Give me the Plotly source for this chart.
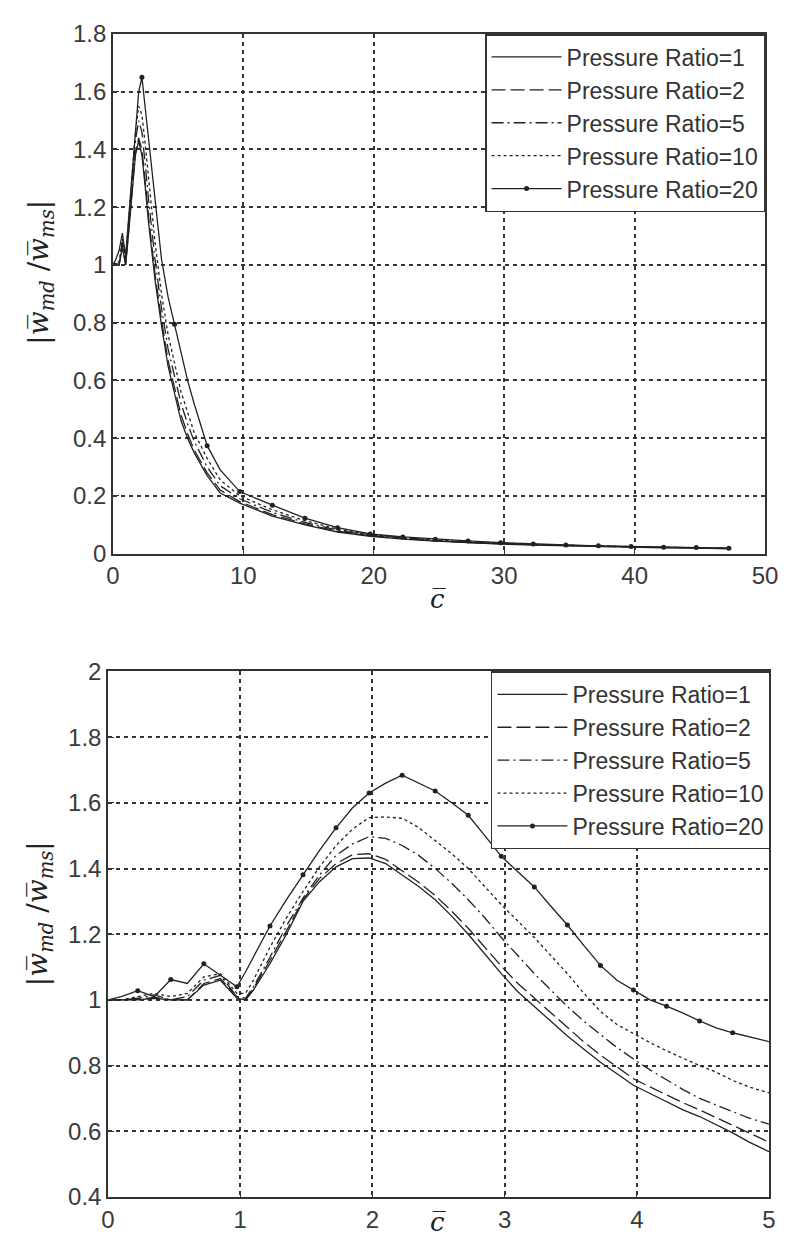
import plotly.graph_objects as go

# ---------------- data: wide range (top panel) ----------------
c_wide = [0, 0.225, 0.475, 0.725, 0.975, 1.225, 1.475, 1.725, 1.975, 2.225, 2.475, 2.725,
          3.225, 3.725, 4.225, 4.725, 5.225, 5.725, 6.225, 7.225, 8.225, 9.725, 12.225,
          14.725, 17.225, 19.725, 22.225, 24.725, 27.225, 29.725, 32.225, 34.725, 37.225,
          39.725, 42.225, 44.725, 47.225]
pr1_wide = [1.0, 1.0, 1.0, 1.06, 1.0, 1.12, 1.26, 1.38, 1.43, 1.38, 1.27, 1.15,
            0.95, 0.79, 0.65, 0.55, 0.46, 0.40, 0.35, 0.27, 0.21, 0.175, 0.13,
            0.10, 0.075, 0.06, 0.05, 0.043, 0.037, 0.033, 0.03, 0.027, 0.024,
            0.022, 0.02, 0.019, 0.017]
pr2_wide = [1.0, 1.0, 1.0, 1.07, 1.0, 1.13, 1.27, 1.39, 1.44, 1.40, 1.29, 1.17,
            0.97, 0.81, 0.67, 0.57, 0.48, 0.415, 0.36, 0.28, 0.22, 0.18, 0.135,
            0.103, 0.078, 0.062, 0.052, 0.044, 0.038, 0.034, 0.031, 0.028, 0.025,
            0.023, 0.021, 0.019, 0.018]
pr5_wide = [1.0, 1.005, 1.0, 1.08, 1.01, 1.15, 1.30, 1.43, 1.50, 1.46, 1.35, 1.23,
            1.02, 0.85, 0.71, 0.61, 0.52, 0.45, 0.39, 0.30, 0.235, 0.19, 0.143,
            0.108, 0.081, 0.064, 0.054, 0.046, 0.04, 0.035, 0.032, 0.029, 0.026,
            0.024, 0.022, 0.02, 0.018]
pr10_wide = [1.0, 1.01, 1.01, 1.09, 1.02, 1.17, 1.33, 1.46, 1.55, 1.52, 1.42, 1.30,
             1.08, 0.90, 0.76, 0.66, 0.56, 0.49, 0.42, 0.33, 0.255, 0.20, 0.152,
             0.114, 0.085, 0.066, 0.056, 0.047, 0.041, 0.036, 0.032, 0.029, 0.026,
             0.024, 0.022, 0.02, 0.018]
pr20_wide = [1.0, 1.02, 1.05, 1.11, 1.03, 1.18, 1.33, 1.47, 1.60, 1.65, 1.545, 1.44,
             1.23, 1.02, 0.89, 0.795, 0.70, 0.60, 0.52, 0.374, 0.29, 0.215, 0.168,
             0.123, 0.09, 0.068, 0.058, 0.05, 0.044, 0.038, 0.033, 0.03, 0.027,
             0.025, 0.022, 0.021, 0.019]

# ---------------- data: zoomed range (bottom panel) ----------------
c_zoom = [0, 0.1, 0.225, 0.35, 0.475, 0.6, 0.725, 0.85, 0.975, 1.04, 1.1, 1.225, 1.35,
          1.475, 1.6, 1.725, 1.85, 1.975, 2.1, 2.225, 2.35, 2.475, 2.6, 2.725, 2.85,
          2.975, 3.1, 3.225, 3.35, 3.475, 3.6, 3.725, 3.85, 3.975, 4.1, 4.225, 4.35,
          4.475, 4.6, 4.725, 4.85, 5.0]
pr1_zoom = [1.0, 1.0, 1.0, 1.005, 1.0, 1.0, 1.045, 1.06, 1.005, 1.0, 1.03, 1.11, 1.20,
            1.30, 1.36, 1.405, 1.43, 1.432, 1.415, 1.38, 1.345, 1.305, 1.255, 1.20, 1.14,
            1.08, 1.025, 0.98, 0.935, 0.89, 0.85, 0.81, 0.775, 0.74, 0.715, 0.69, 0.665,
            0.645, 0.62, 0.595, 0.567, 0.538]
pr2_zoom = [1.0, 1.0, 1.002, 1.008, 1.0, 1.0, 1.05, 1.065, 1.01, 1.0, 1.035, 1.12, 1.21,
            1.305, 1.37, 1.415, 1.442, 1.445, 1.428, 1.393, 1.358, 1.318, 1.27, 1.218, 1.16,
            1.103, 1.05, 1.005, 0.96, 0.915, 0.872, 0.832, 0.795, 0.76, 0.735, 0.71, 0.687,
            0.665, 0.642, 0.618, 0.595, 0.567]
pr5_zoom = [1.0, 1.0, 1.005, 1.015, 1.0, 1.01, 1.06, 1.075, 1.01, 1.005, 1.04, 1.13, 1.225,
            1.31, 1.38, 1.44, 1.475, 1.497, 1.492, 1.47, 1.44, 1.40, 1.355, 1.305, 1.25,
            1.19, 1.135, 1.08, 1.03, 0.98, 0.935, 0.895, 0.855, 0.82, 0.787, 0.757, 0.727,
            0.70, 0.68, 0.66, 0.64, 0.622]
pr10_zoom = [1.0, 1.0, 1.01, 1.02, 1.01, 1.02, 1.07, 1.08, 1.02, 1.02, 1.06, 1.16, 1.25,
             1.33, 1.405, 1.47, 1.52, 1.555, 1.557, 1.553, 1.525, 1.485, 1.445, 1.40, 1.345,
             1.29, 1.24, 1.19, 1.135, 1.08, 1.02, 0.965, 0.925, 0.897, 0.87, 0.845, 0.822,
             0.80, 0.78, 0.755, 0.735, 0.717]
pr20_zoom = [1.0, 1.01, 1.028, 1.01, 1.062, 1.05, 1.11, 1.075, 1.04, 1.085, 1.13, 1.225, 1.305,
             1.381, 1.455, 1.524, 1.585, 1.630, 1.66, 1.684, 1.66, 1.636, 1.60, 1.562, 1.50,
             1.437, 1.39, 1.344, 1.285, 1.228, 1.165, 1.105, 1.06, 1.03, 1.0, 0.981, 0.96,
             0.936, 0.915, 0.90, 0.888, 0.873]

series_names = ["Pressure Ratio=1", "Pressure Ratio=2", "Pressure Ratio=5",
                "Pressure Ratio=10", "Pressure Ratio=20"]

# ---------------- styling ----------------
LINE_COLOR = "#222222"
AX_COLOR = "#333333"
dashes = ["solid", "14px,5px", "12px,4px,2px,4px", "3px,3px", "solid"]
FONT = "Liberation Sans, Arial, sans-serif"

fig = go.Figure()

wide_sets = [pr1_wide, pr2_wide, pr5_wide, pr10_wide, pr20_wide]
zoom_sets = [pr1_zoom, pr2_zoom, pr5_zoom, pr10_zoom, pr20_zoom]


def marker_mask(cs, start, step, stop):
    out = []
    for c in cs:
        k = (c - start) / step
        out.append(c >= start - 1e-9 and c <= stop and abs(k - round(k)) < 1e-6)
    return out


panels = [
    (c_wide, wide_sets, "x", "y", "legend", marker_mask(c_wide, 2.225, 2.5, 50)),
    (c_zoom, zoom_sets, "x2", "y2", "legend2", marker_mask(c_zoom, 0.225, 0.25, 4.8)),
]

for cs, sets, xa, ya, lg, mask in panels:
    for i, (name, vals) in enumerate(zip(series_names, sets)):
        fig.add_trace(go.Scatter(
            x=cs, y=vals, mode="lines", xaxis=xa, yaxis=ya,
            line=dict(color=LINE_COLOR, width=1.3, dash=dashes[i]),
            name=name, legend=lg, showlegend=(i < 4), hoverinfo="skip"))
    mx = [c for c, m in zip(cs, mask) if m]
    my = [v for v, m in zip(sets[4], mask) if m]
    fig.add_trace(go.Scatter(
        x=mx, y=my, mode="markers", xaxis=xa, yaxis=ya,
        marker=dict(color=LINE_COLOR, size=5, symbol="circle"),
        showlegend=False, legend=lg, hoverinfo="skip"))
    fig.add_trace(go.Scatter(
        x=[None], y=[None], mode="lines+markers", xaxis=xa, yaxis=ya,
        line=dict(color=LINE_COLOR, width=1.3),
        marker=dict(color=LINE_COLOR, size=5),
        name=series_names[4], legend=lg, showlegend=True))

W, H = 786, 1237
ML, MR, MT, MB = 100, 13, 19, 43
pw, ph = W - ML - MR, H - MT - MB


def px_x(p):
    return (p - ML) / pw


def px_y(p):
    return (H - MB - p) / ph


axis_common = dict(
    showline=True, linecolor=AX_COLOR, linewidth=1.5, mirror=True,
    ticks="inside", ticklen=6, tickcolor=AX_COLOR, tickwidth=1.2,
    showgrid=True, gridcolor="#333333", gridwidth=1.5, griddash="4px,4px",
    zeroline=False,
    tickfont=dict(family=FONT, size=24, color="#3a3a3a"),
)

legend_common = dict(
    xanchor="right", yanchor="top",
    bgcolor="white", bordercolor=AX_COLOR, borderwidth=1.5,
    font=dict(family=FONT, size=23, color="#333333"),
    itemwidth=70, tracegroupgap=0,
)

fig.update_layout(
    width=W, height=H,
    margin=dict(l=ML, r=MR, t=MT, b=MB),
    paper_bgcolor="white", plot_bgcolor="white",
    xaxis=dict(domain=[px_x(105), px_x(769)], anchor="y", range=[0, 50], dtick=10, **axis_common),
    yaxis=dict(domain=[px_y(544), px_y(19)], anchor="x", range=[0, 1.8], dtick=0.2, **axis_common),
    xaxis2=dict(domain=[px_x(100), px_x(773)], anchor="y2", range=[0, 5], dtick=1, **axis_common),
    yaxis2=dict(domain=[px_y(1194), px_y(663)], anchor="x2", range=[0.4, 2], dtick=0.2, **axis_common),
    legend=dict(x=px_x(769), y=px_y(19), **legend_common),
    legend2=dict(x=px_x(775), y=px_y(663), **legend_common),
    showlegend=True,
)

ylabel = "|<i>w\u0305</i><sub><i>md</i></sub> /<i>w\u0305</i><sub><i>ms</i></sub>|"
xlabel = "<i>c\u0305</i>"
label_font = dict(family="DejaVu Serif, serif", size=28, color="#222222")

for ymid in (px_y(260), px_y(908)):
    fig.add_annotation(text=ylabel, xref="paper", yref="paper", x=px_x(31), y=ymid,
                       textangle=-90, showarrow=False, font=label_font,
                       xanchor="center", yanchor="middle")
for yc in (px_y(590), px_y(1219)):
    fig.add_annotation(text=xlabel, xref="paper", yref="paper", x=px_x(436), y=yc,
                       showarrow=False, font=dict(family="DejaVu Serif, serif", size=26, color="#222222"),
                       xanchor="center", yanchor="middle")

fig.write_html("out.html")
